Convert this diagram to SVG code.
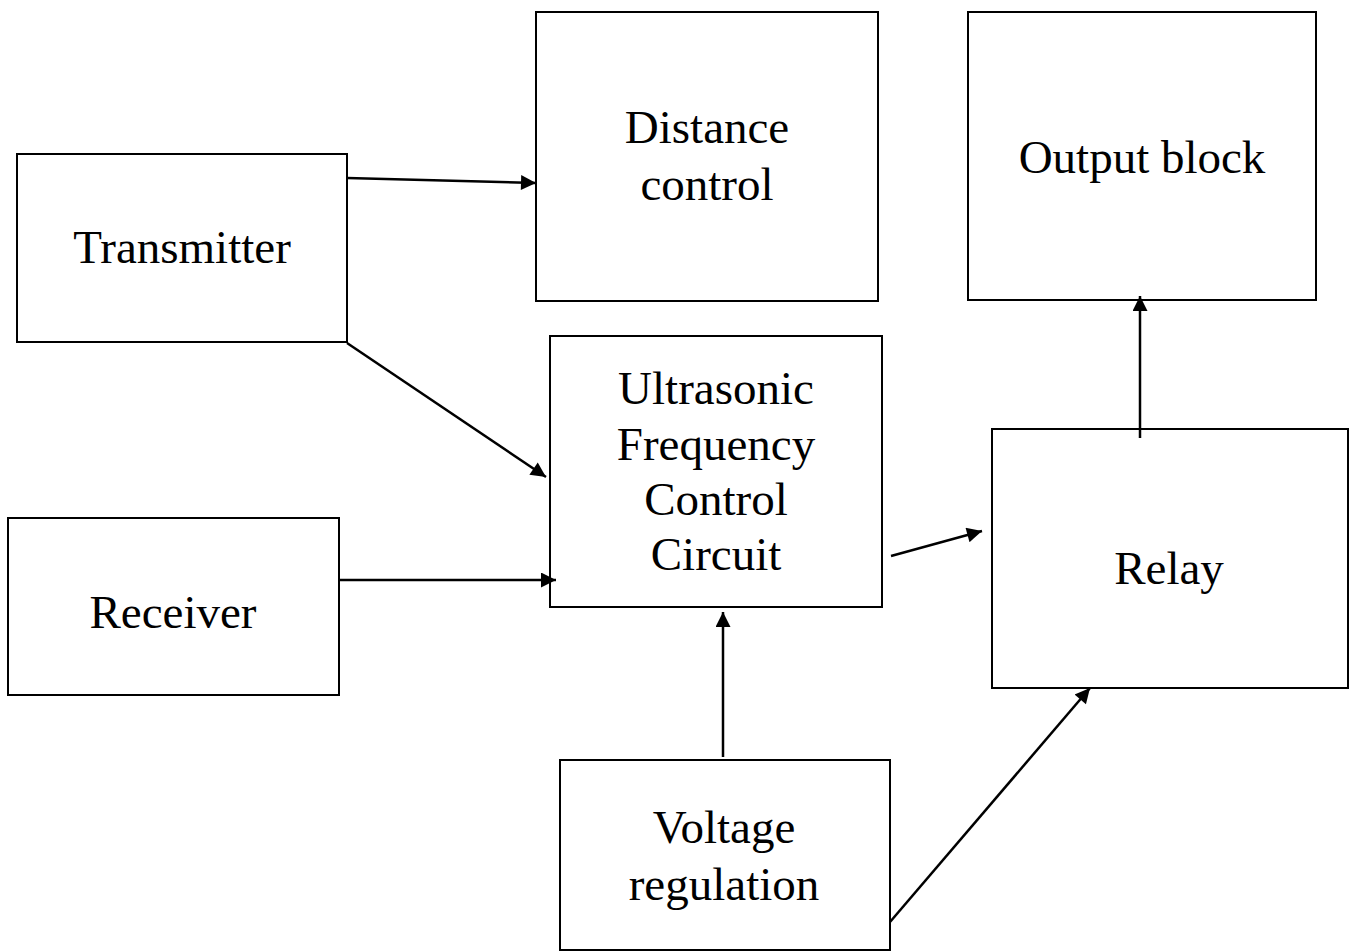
<svg xmlns="http://www.w3.org/2000/svg" width="1354" height="952" viewBox="0 0 1354 952">
<style>
.box{fill:#fff;stroke:#000;stroke-width:2}
.lbl{font-family:"Liberation Serif","Times New Roman",serif;font-size:47px;fill:#000;text-anchor:middle}
.con{stroke:#000;stroke-width:2.5;fill:none;marker-end:url(#ah)}
</style>
<defs>
<marker id="ah" viewBox="0 0 10 10" refX="10" refY="5" markerWidth="7" markerHeight="6" markerUnits="strokeWidth" orient="auto">
<path d="M0,0 L10,5 L0,10 z" fill="#000"/>
</marker>
</defs>
<rect width="1354" height="952" fill="#fff"/>
<g id="transmitter"><rect class="box" x="17" y="154" width="330" height="188"/><text class="lbl" x="182" y="263">Transmitter</text></g>
<g id="distance"><rect class="box" x="536" y="12" width="342" height="289"/><text class="lbl" x="707" y="143">Distance</text><text class="lbl" x="707" y="200">control</text></g>
<g id="output"><rect class="box" x="968" y="12" width="348" height="288"/><text class="lbl" x="1142" y="173">Output block</text></g>
<g id="ultrasonic"><rect class="box" x="550" y="336" width="332" height="271"/><text class="lbl" x="716" y="404">Ultrasonic</text><text class="lbl" x="716" y="460">Frequency</text><text class="lbl" x="716" y="515">Control</text><text class="lbl" x="716" y="570">Circuit</text></g>
<g id="receiver"><rect class="box" x="8" y="518" width="331" height="177"/><text class="lbl" x="173" y="628">Receiver</text></g>
<g id="relay"><rect class="box" x="992" y="429" width="356" height="259"/><text class="lbl" x="1169" y="584">Relay</text></g>
<g id="voltage"><rect class="box" x="560" y="760" width="330" height="190"/><text class="lbl" x="724" y="843">Voltage</text><text class="lbl" x="724" y="900">regulation</text></g>
<g id="connectors">
<line class="con" x1="347" y1="178" x2="536" y2="183"/>
<line class="con" x1="347" y1="343" x2="546" y2="477"/>
<line class="con" x1="339" y1="580" x2="556" y2="580"/>
<line class="con" x1="723" y1="757" x2="723" y2="612"/>
<line class="con" x1="891" y1="556" x2="982" y2="531"/>
<line class="con" x1="1140" y1="438" x2="1140" y2="296"/>
<line class="con" x1="890" y1="922" x2="1090" y2="688"/>
</g>
</svg>
